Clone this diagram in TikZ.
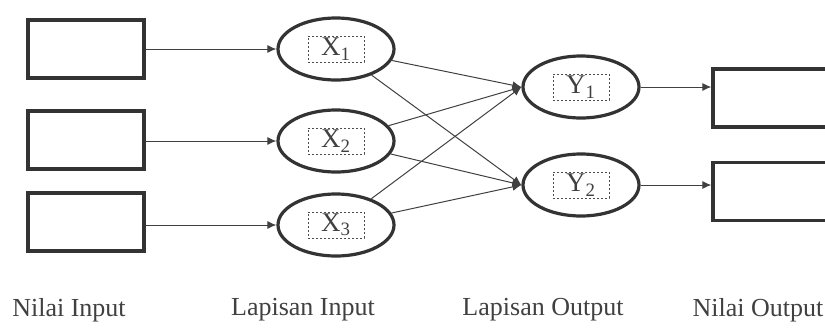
\documentclass[tikz,border=0pt]{standalone}
\usepackage{fontspec}
\setmainfont{Liberation Serif}
\usepackage{tikz}
\usetikzlibrary{positioning, shapes, arrows.meta, calc}

\begin{document}
\begin{tikzpicture}[x=0.5pt, y=-0.5pt,
    valbox/.style={rectangle, draw=black!80, line width=1.6pt, minimum width=58pt, minimum height=29pt},
    neuron/.style={ellipse, draw=black!80, line width=1.6pt, minimum width=58pt, minimum height=31pt},
    tag/.style={rectangle, draw=black!70, dash pattern=on 1.2pt off 0.8pt, line width=0.5pt, minimum width=28pt, minimum height=13pt, inner sep=0pt, font=\fontsize{13.5}{14}\selectfont, text=black!75},
    link/.style={draw=black!75, line width=0.5pt, -{Latex[length=4.5pt,width=4pt]}},
    caption/.style={font=\fontsize{13}{15}\selectfont, text=black!75}]
                  \useasboundingbox (0,0) rectangle (825,327);
                  % Nodes
                  \foreach \i/\y in {1/49,2/140,3/222}
                  \node[valbox] (in\i) at (86,\y) {};
                  \foreach \i/\y in {1/49,2/141,3/225}
                  {\node[neuron] (x\i) at (336,\y) {};
                   \node[tag] at (x\i) {X\textsubscript{\i}};}
                  \foreach \j/\y in {1/87,2/185}
                  {\node[neuron] (y\j) at (581,\y) {};
                   \node[tag] at (y\j) {Y\textsubscript{\j}};}
                  \node[valbox] (out1) at (771,98) {};
                  \node[valbox] (out2) at (771,191.5) {};

                  % Labels
                  \node[caption] (lab1) at (69,310) {Nilai Input};
                  \node[caption] (lab2) at (303,310) {Lapisan Input};
                  \node[caption] (lab3) at (543,310) {Lapisan Output};
                  \node[caption] (lab4) at (758,310) {Nilai Output};

                  % Arrows
                  \foreach \i in {1,2,3}
                  \draw[link] (in\i.east |- x\i) -- (x\i.west);
                  \foreach \i in {1,2,3}
                  \foreach \j in {1,2}
                  \draw[link] (x\i) -- (y\j.west);
                  \foreach \j in {1,2}
                  \draw[link] (y\j.east) -- (out\j.west |- y\j);
              \end{tikzpicture}
\end{document}
